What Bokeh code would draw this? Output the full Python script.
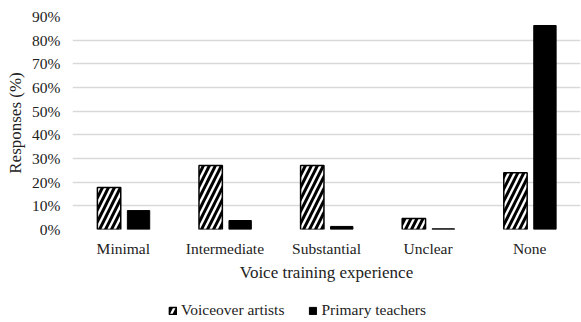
from bokeh.plotting import figure
from bokeh.layouts import column
from bokeh.models import ColumnDataSource, Legend, LegendItem, NumeralTickFormatter, FixedTicker, Range1d
from bokeh.transform import dodge
from bokeh.embed import file_html
from bokeh.resources import INLINE

categories = ["Minimal", "Intermediate", "Substantial", "Unclear", "None"]
voiceover = [0.177, 0.27, 0.27, 0.046, 0.24]
teachers = [0.08, 0.038, 0.013, 0.003, 0.862]
y_ticks = [0, 0.1, 0.2, 0.3, 0.4, 0.5, 0.6, 0.7, 0.8, 0.9]
series_names = ["Voiceover artists", "Primary teachers"]

src = ColumnDataSource(dict(cat=categories, v=voiceover, t=teachers))

FONT = "Liberation Serif"
HATCH = dict(fill_color="white", line_color="black", line_width=1.5,
             hatch_pattern="right_diagonal_line", hatch_color="black",
             hatch_weight=3, hatch_scale=12)
SOLID = dict(fill_color="black", line_color="black", line_width=1)

p = figure(x_range=categories, y_range=Range1d(0, 0.9), width=581, height=285,
           output_backend="svg", toolbar_location=None,
           min_border_left=72, min_border_right=1, min_border_top=16, min_border_bottom=56)
p.outline_line_color = None
p.background_fill_color = "white"
p.border_fill_color = "white"

p.vbar(x=dodge("cat", -0.14, range=p.x_range), top="v", width=0.23, source=src, **HATCH)
p.vbar(x=dodge("cat", 0.15, range=p.x_range), top="t", width=0.22, source=src, **SOLID)

p.yaxis.ticker = FixedTicker(ticks=y_ticks)
p.yaxis.formatter = NumeralTickFormatter(format="0%")
p.ygrid.grid_line_color = "#d9d9d9"
p.ygrid.grid_line_width = 1.5
p.xgrid.grid_line_color = None

for ax in (p.xaxis[0], p.yaxis[0]):
    ax.axis_line_color = None
    ax.major_tick_line_color = None
    ax.minor_tick_line_color = None
    ax.major_label_text_font = FONT
    ax.major_label_text_font_size = "15.5px"
    ax.major_label_text_color = "#222222"
    ax.axis_label_text_font = FONT
    ax.axis_label_text_font_size = "17px"
    ax.axis_label_text_font_style = "normal"
    ax.axis_label_text_color = "#222222"

p.xaxis.major_label_standoff = 4
p.yaxis.major_label_standoff = 6
p.xaxis.axis_label = "Voice training experience"
p.xaxis.axis_label_standoff = 3
p.yaxis.axis_label = "Responses (%)"
p.yaxis.axis_label_standoff = 4

# legend strip below the chart (proxy renderers carry only the styles)
pl = figure(width=581, height=37, output_backend="svg", toolbar_location=None,
            x_axis_type=None, y_axis_type=None, x_range=(0, 1), y_range=(0, 1),
            min_border=0)
pl.outline_line_color = None
pl.grid.visible = False
nan = float("nan")
l1 = pl.vbar(x=[nan], top=[nan], width=0.1, **HATCH)
l2 = pl.vbar(x=[nan], top=[nan], width=0.1, **SOLID)
legend = Legend(items=[LegendItem(label=series_names[0], renderers=[l1]),
                       LegendItem(label=series_names[1], renderers=[l2])],
                orientation="horizontal", location=(96, 3),
                label_text_font=FONT, label_text_font_size="15.5px", label_text_color="#222222",
                glyph_width=9, glyph_height=9, label_standoff=4, spacing=24,
                border_line_color=None, background_fill_alpha=0, padding=3, margin=0)
pl.add_layout(legend, "center")

layout = column(p, pl, spacing=0)
open("out.html", "w").write(file_html(layout, INLINE))
